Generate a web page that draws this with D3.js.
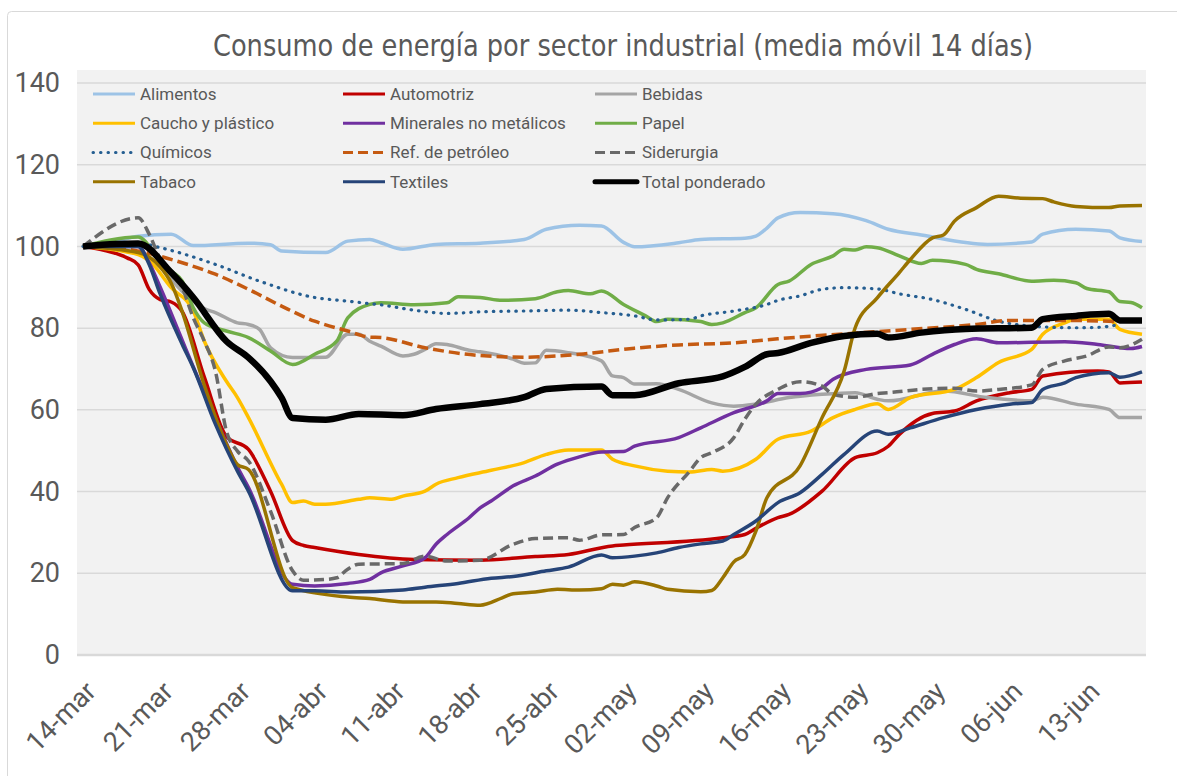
<!DOCTYPE html>
<html>
<head>
<meta charset="utf-8">
<script src="https://cdn.jsdelivr.net/npm/d3@7"></script>
<style>
  body { margin: 0; background: #fff; }
  svg { display: block; font-family: Roboto, 'Noto Sans', sans-serif; }
</style>
</head>
<body>
<script>
// day offsets counted from 14-mar, index values (base 100)
const startDate = new Date(2020, 2, 14);
const lastDay = 96;

const tickLabels = ['14-mar', '21-mar', '28-mar', '04-abr', '11-abr', '18-abr', '25-abr',
  '02-may', '09-may', '16-may', '23-may', '30-may', '06-jun', '13-jun'];
const yTicks = [0, 20, 40, 60, 80, 100, 120, 140];

const alimentos = [[0,100],[2,100.6],[5,102.5],[8,103],[10,100.2],[15,100.8],[17,100.4],[18,98.9],[22,98.5],[24,101.3],[26,101.7],[27,100.9],[29,99.3],[32,100.5],[36,100.8],[40,101.7],[42,104.2],[45,105.2],[47,105],[49,101],[50,99.9],[54,100.9],[56,101.7],[60,102],[61,102.5],[62,104.5],[63,107],[65,108.3],[68,108],[71,106.3],[73,104.2],[76,102.8],[82,100.5],[86,101.1],[87,103],[90,104.2],[93,103.8],[94,102.1],[96,101.2]];
const automotriz = [[0,100],[2,99],[4,97.2],[5,95.5],[6,89.5],[7,87],[8,86.4],[9,84],[11,68],[13,53.5],[15,50.3],[17,40.1],[19,28],[20,26.8],[21,26.3],[25,24.6],[30,23.4],[36,23.2],[41,24.1],[44,24.6],[48,26.7],[49,26.9],[58,28.7],[60,29.5],[61,31],[63,33.6],[64,34.4],[67,40.1],[70,48.3],[72,49.5],[73,51.1],[74,54],[77,59.1],[79,59.7],[81,62.2],[84,64.2],[86,65],[87,68.3],[92,69.5],[93,69.3],[94,66.6],[96,66.8]];
const bebidas = [[0,100],[5,98.5],[7,95],[9,89],[11,84.8],[12,83.8],[14,81.3],[15,80.9],[16,79.7],[17,75.2],[19,72.8],[22,72.9],[24,78.5],[25,78.5],[26,76.8],[27,75.6],[29,73.2],[30,73.6],[31,74.8],[32,76.2],[33,76],[35,74.6],[36,74.2],[39,72.4],[40,71.4],[41,71.5],[42,74.6],[44,74],[47,72],[48,68.3],[49,67.9],[50,66.3],[52,66.4],[54,65],[57,61.7],[59,60.9],[61,61.4],[64,63],[67,63.8],[70,64.2],[72,62.6],[73,62.2],[78,64.6],[82,63],[86,62.2],[87,63.1],[90,61.4],[93,60.1],[94,58.1],[96,58.1]];
const caucho = [[0,100],[5,98],[6,96.5],[8,89.9],[10,84.2],[11,76.8],[13,67],[14,63],[15,58.1],[18,41.8],[19,37.3],[20,37.7],[21,36.9],[22,36.9],[25,38.1],[26,38.5],[28,38.1],[29,38.9],[31,40.1],[32,41.8],[34,43.4],[37,45.2],[40,47.1],[42,49.1],[44,50.2],[47,50.2],[48,47.9],[50,46.3],[53,45],[55,44.8],[57,45.4],[58,45],[61,47.9],[63,52.8],[66,54.8],[68,58.1],[70,60.1],[72,61.5],[73,60.1],[75,63],[79,65],[81,67.9],[83,71.6],[86,74.8],[87,78.5],[89,81.3],[90,82.2],[93,82.2],[94,79.7],[96,78.5]];
const minerales = [[0,100],[5,100],[6,96],[7,90],[9,77],[10,70.5],[12,58],[14,46],[15,41],[19,17.3],[21,16.9],[24,17.5],[26,18.5],[27,20.1],[29,21.8],[31,23.8],[32,27.1],[33,29.5],[35,33.6],[36,36],[37,37.7],[39,41.4],[41,43.8],[43,46.7],[45,48.5],[47,49.7],[49,49.8],[50,51.1],[54,53.2],[56,55.6],[59,59.3],[62,62.2],[63,64],[65,64],[67,65.4],[68,67.5],[71,69.9],[75,71],[77,73.6],[79,76],[81,77.4],[83,76.4],[89,76.7],[92,76],[95,75],[96,75.5]];
const papel = [[0,100],[5,102.3],[7,96.4],[8,94],[9,91.5],[10,85],[11,81.3],[13,79.3],[15,77.7],[17,74.4],[19,71.1],[21,73.6],[23,76.8],[24,82.5],[26,85.8],[27,86.2],[30,85.7],[33,86.2],[34,87.7],[36,87.5],[38,86.8],[41,87.2],[43,88.9],[44,89.2],[46,88.4],[47,89.1],[49,85.8],[51,83],[52,81.6],[53,82.2],[56,81.6],[57,80.9],[58,81.3],[60,83.8],[61,85],[63,90.7],[64,91.5],[66,95.6],[68,97.7],[69,99.3],[70,99.1],[71,99.9],[72,99.7],[74,97.7],[76,95.8],[77,96.6],[80,95.6],[81,94.4],[83,93.3],[86,91.5],[88,91.7],[90,91.1],[91,89.7],[93,88.9],[94,86.5],[95,86.3],[96,85]];
const quimicos = [[0,100],[5,100.8],[7,99.7],[12,95.6],[16,91.5],[21,87.5],[24,86.6],[26,86],[27,85.7],[30,84.4],[33,83.6],[36,84],[40,84.2],[44,84.4],[47,83.8],[50,83],[52,82],[55,82.2],[56,83],[59,84.2],[62,85.8],[63,86.8],[65,87.9],[67,89.5],[69,89.9],[72,89.6],[74,88.4],[77,87],[80,84.6],[83,81.7],[86,80.5],[90,80.1],[92,80.2],[94,80.9]];
const petroleo = [[0,100],[4,99.3],[9,96],[12,93.2],[15,89.5],[18,85.4],[21,81.7],[24,79.3],[26,77.8],[27,77.7],[31,75.2],[36,73.3],[40,72.9],[45,73.6],[50,75.1],[54,75.9],[59,76.4],[63,77.4],[69,78.6],[75,79.7],[81,80.9],[84,81.9],[89,81.9],[94,81.6]];
const siderurgia = [[0,100],[5,107],[6,103],[7,96.8],[9,89.9],[10,82.5],[11,76.8],[12,69.5],[13,54.8],[14,49.9],[15,47.5],[17,35.2],[19,20.6],[20,18.3],[22,18.5],[23,18.9],[24,21],[25,22.2],[29,22.4],[31,24.2],[33,23],[36,23.2],[39,27.1],[41,28.5],[44,28.7],[45,28.1],[47,29.4],[49,29.5],[50,31.2],[52,33.6],[53,38.5],[55,45],[56,48.3],[57,49.5],[59,53.2],[60,57.7],[61,61.4],[63,65],[64,66.3],[65,66.9],[67,65.8],[68,63.8],[70,63.1],[72,64],[73,64.2],[76,65],[79,65.3],[81,64.6],[83,65],[86,66.1],[87,69.9],[89,72],[91,73.2],[93,75.4],[94,75.2],[96,77.3]];
const tabaco = [[0,100],[5,98.5],[7,95],[8,91],[9,84],[11,66],[13,51.6],[14,46.6],[15,45.4],[19,16.5],[24,14.2],[26,13.8],[29,13],[32,13],[34,12.6],[36,12.2],[38,14],[39,15],[41,15.4],[43,16.1],[45,15.9],[47,16.2],[48,17.3],[49,17.1],[50,17.9],[52,16.9],[53,16.1],[56,15.5],[57,15.8],[58,18.9],[59,22.8],[60,24.6],[61,30.3],[62,38.5],[65,46.3],[67,58.1],[69,69.5],[70,80.1],[72,87.4],[74,93.6],[75,96.8],[77,102.1],[78,102.8],[79,106.2],[81,109.5],[83,112.3],[85,111.8],[87,111.7],[88,110.9],[90,109.8],[93,109.5],[94,109.9],[96,110]];
const textiles = [[0,100],[5,100],[6,95.6],[7,88.3],[9,76],[10,70.3],[12,56.5],[14,45],[15,40.1],[19,15.7],[21,15.7],[24,15.4],[29,15.9],[31,16.6],[34,17.5],[37,18.8],[39,19.2],[42,20.6],[44,21.5],[47,24.5],[48,23.8],[50,24.2],[52,25],[54,26.3],[56,27.2],[58,27.9],[59,29.5],[61,32.8],[63,37.3],[65,39.7],[67,44.2],[69,49.1],[72,54.8],[73,54],[75,55.6],[78,58.1],[81,60.1],[84,61.4],[86,61.8],[87,65],[89,66.6],[90,67.9],[93,69.1],[94,68],[96,69.3]];
const total = [[0,100],[3,100.6],[5,100.7],[8,93.6],[10,87.5],[13,76.8],[15,72.8],[17,67],[18,63],[19,58],[22,57.6],[25,59],[29,58.7],[32,60.2],[36,61.4],[40,63.1],[42,65.1],[47,65.7],[48,63.6],[50,63.6],[54,66.5],[58,68.2],[60,70.5],[62,73.6],[63,73.9],[66,76.4],[69,78.1],[72,78.6],[73,77.7],[76,78.9],[80,79.8],[86,80.1],[87,82.2],[90,83],[93,83.5],[94,81.9],[96,81.9]];

const seriesNames = ['Alimentos', 'Automotriz', 'Bebidas', 'Caucho y plástico', 'Minerales no metálicos', 'Papel',
  'Químicos', 'Ref. de petróleo', 'Siderurgia', 'Tabaco', 'Textiles', 'Total ponderado'];
const seriesData = [alimentos, automotriz, bebidas, caucho, minerales, papel,
  quimicos, petroleo, siderurgia, tabaco, textiles, total];

// line styles per series, same order as the names
const styles = [
  { color: '#9DC3E6', width: 3.5 },
  { color: '#C00000', width: 3.5 },
  { color: '#A5A5A5', width: 3.5 },
  { color: '#FFC000', width: 3.5 },
  { color: '#7030A0', width: 3.5 },
  { color: '#70AD47', width: 3.5 },
  { color: '#255E91', width: 3.2, dash: '0.5 7', cap: 'round' },
  { color: '#C55A11', width: 3.5, dash: '11 5' },
  { color: '#696969', width: 3.5, dash: '10 5' },
  { color: '#997300', width: 3.5 },
  { color: '#264478', width: 3.5 },
  { color: '#000000', width: 6.5 }
];

const width = 1177, height = 776;
const plot = { left: 77, right: 1146, top: 70, bottom: 655 };

const svg = d3.select('body').append('svg')
  .attr('width', width)
  .attr('height', height);

// chart frame
svg.append('rect')
  .attr('x', 7.5).attr('y', 11.5)
  .attr('width', width + 20).attr('height', height + 20)
  .attr('rx', 4)
  .attr('fill', '#fff')
  .attr('stroke', '#D9D9D9');

// plot area background
svg.append('rect')
  .attr('x', plot.left).attr('y', plot.top)
  .attr('width', plot.right - plot.left).attr('height', plot.bottom - plot.top)
  .attr('fill', '#F2F2F2');

const day = d => d3.timeDay.offset(startDate, d);

const xScale = d3.scaleTime()
  .domain([startDate, day(lastDay)])
  .range([83, 1142]);

const yScale = d3.scaleLinear()
  .domain([0, 140])
  .range([655, 83]);

// gridlines
svg.append('g')
  .selectAll('line')
  .data(yTicks)
  .join('line')
  .attr('x1', plot.left).attr('x2', plot.right)
  .attr('y1', d => yScale(d)).attr('y2', d => yScale(d))
  .attr('stroke', '#D9D9D9')
  .attr('stroke-width', d => d === 0 ? 2.5 : 1.5);

// y axis
const yAxis = d3.axisLeft(yScale).tickValues(yTicks).tickSize(0).tickPadding(0);
svg.append('g')
  .attr('transform', 'translate(60,0)')
  .call(yAxis)
  .call(g => g.select('.domain').remove())
  .selectAll('text')
  .attr('fill', '#595959')
  .style('font-size', '27px')
  .style('font-family', 'Roboto');

// x axis
const xAxis = d3.axisBottom(xScale)
  .tickValues(tickLabels.map((t, i) => day(7 * i)))
  .tickFormat((d, i) => tickLabels[i])
  .tickSize(0);
svg.append('g')
  .attr('transform', `translate(0,${plot.bottom})`)
  .call(xAxis)
  .call(g => g.select('.domain').remove())
  .selectAll('text')
  .attr('fill', '#595959')
  .style('font-size', '27px')
  .style('font-family', 'Roboto')
  .style('text-anchor', 'end')
  .attr('x', 0).attr('y', 0).attr('dy', 0)
  .attr('transform', 'translate(14,38) rotate(-45)');

// series lines
const line = d3.line()
  .x(d => xScale(day(d[0])))
  .y(d => yScale(d[1]))
  .curve(d3.curveMonotoneX);

svg.append('g')
  .selectAll('path')
  .data(seriesData)
  .join('path')
  .attr('d', d => line(d))
  .attr('fill', 'none')
  .attr('stroke', (d, i) => styles[i].color)
  .attr('stroke-width', (d, i) => styles[i].width)
  .attr('stroke-dasharray', (d, i) => styles[i].dash || null)
  .attr('stroke-linecap', (d, i) => styles[i].cap || 'butt')
  .attr('stroke-linejoin', 'round');

// legend, 3 columns x 4 rows
const legendCols = [93, 343, 595];
const legendRows = [94, 123.3, 152.5, 181.7];
const legend = svg.append('g')
  .selectAll('g')
  .data(seriesNames)
  .join('g')
  .attr('transform', (d, i) => `translate(${legendCols[i % 3]},${legendRows[Math.floor(i / 3)]})`);

legend.append('line')
  .attr('x1', 0).attr('x2', 42)
  .attr('stroke', (d, i) => styles[i].color)
  .attr('stroke-width', (d, i) => i === 11 ? 5 : 3)
  .attr('stroke-dasharray', (d, i) => styles[i].dash ? (styles[i].cap ? '0.5 7' : '10 5') : null)
  .attr('stroke-linecap', (d, i) => styles[i].cap || (i === 11 ? 'round' : 'butt'));

legend.append('text')
  .attr('x', 47)
  .attr('dy', '0.35em')
  .attr('fill', '#595959')
  .style('font-size', '17px')
  .text(d => d);

// title
svg.append('text')
  .attr('x', 623)
  .attr('y', 56)
  .attr('text-anchor', 'middle')
  .attr('fill', '#595959')
  .attr('textLength', 820)
  .attr('lengthAdjust', 'spacingAndGlyphs')
  .style('font-size', '31px')
  .style('font-family', "'DejaVu Sans Condensed', 'DejaVu Sans'")
  .style('font-stretch', 'condensed')
  .text('Consumo de energía por sector industrial (media móvil 14 días)');
</script>
</body>
</html>
